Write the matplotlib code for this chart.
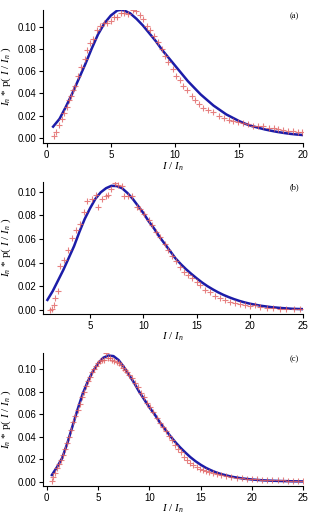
import matplotlib
matplotlib.use('Agg')
import matplotlib.pyplot as plt

plt.rcParams['mathtext.fontset'] = 'custom'
plt.rcParams['mathtext.rm'] = 'Liberation Serif'
plt.rcParams['mathtext.it'] = 'Liberation Serif:italic'

# ---- panel (a) ----
a_pts_x = [0.57, 0.73, 0.99, 1.17, 1.35, 1.56, 1.74, 1.9, 2.08, 2.2, 2.47, 2.65, 2.99, 3.17, 3.38,
           3.64, 3.9, 4.16, 4.47, 4.73, 4.99, 5.25, 5.5, 5.77, 6.03, 6.36, 6.7, 7.0, 7.27, 7.53,
           7.79, 8.05, 8.36, 8.7, 8.96, 9.22, 9.48, 9.82, 10.08, 10.4, 10.65, 10.96, 11.3, 11.56,
           11.9, 12.2, 12.6, 13.0, 13.4, 13.8, 14.2, 14.5, 14.9, 15.3, 15.7, 16.1, 16.5, 16.9,
           17.3, 17.7, 18.05, 18.4, 18.8, 19.2, 19.6, 19.9]
a_pts_y = [0.0015, 0.0054, 0.0114, 0.017, 0.022, 0.028, 0.034, 0.038, 0.043, 0.047, 0.056, 0.064,
           0.071, 0.079, 0.085, 0.089, 0.097, 0.101, 0.103, 0.103, 0.105, 0.109, 0.109, 0.112,
           0.112, 0.111, 0.115, 0.114, 0.110, 0.107, 0.101, 0.097, 0.092, 0.086, 0.080, 0.074,
           0.068, 0.062, 0.056, 0.052, 0.047, 0.043, 0.038, 0.034, 0.030, 0.027, 0.025, 0.023,
           0.020, 0.018, 0.016, 0.015, 0.014, 0.013, 0.012, 0.011, 0.0108, 0.0105, 0.009, 0.0087,
           0.0075, 0.0069, 0.0063, 0.006, 0.0054, 0.0051]
a_fit_x = [0.5, 1, 1.5, 2, 2.5, 3, 3.5, 4, 4.5, 5, 5.5, 5.75, 6, 6.5, 7, 7.5, 8, 8.5, 9, 9.5, 10,
           10.5, 11, 11.5, 12, 12.5, 13, 13.5, 14, 14.5, 15, 15.5, 16, 16.5, 17, 17.5, 18, 18.5,
           19, 19.5, 20]
a_fit_y = [0.010, 0.017, 0.028, 0.040, 0.053, 0.066, 0.080, 0.093, 0.103, 0.110, 0.1145, 0.115,
           0.1147, 0.112, 0.107, 0.101, 0.094, 0.087, 0.079, 0.072, 0.065, 0.058, 0.051, 0.045,
           0.039, 0.034, 0.029, 0.025, 0.021, 0.018, 0.015, 0.0125, 0.0105, 0.009, 0.0075, 0.0063,
           0.0052, 0.0043, 0.0035, 0.0029, 0.0024]

# ---- panel (b) ----
b_pts_x = [1.2, 1.4, 1.6, 1.75, 2.0, 2.2, 2.56, 2.97, 3.28, 3.69, 4.06, 4.44, 4.75, 5.16, 5.6,
           5.7, 6.1, 6.5, 6.7, 7.0, 7.3, 7.65, 7.97, 8.2, 8.6, 8.9, 9.4, 9.7, 10.1, 10.5, 10.8,
           11.2, 11.6, 12.0, 12.3, 12.7, 13.1, 13.4, 13.8, 14.2, 14.6, 15.0, 15.3, 15.8, 16.25,
           16.7, 17.2, 17.7, 18.1, 18.6, 19.1, 19.5, 20.0, 20.5, 20.9, 21.6, 22.2, 22.8, 23.4,
           24.1, 24.7]
b_pts_y = [0.000, 0.001, 0.004, 0.010, 0.016, 0.037, 0.042, 0.051, 0.061, 0.068, 0.073, 0.083,
           0.092, 0.094, 0.097, 0.087, 0.094, 0.096, 0.097, 0.102, 0.107, 0.106, 0.105, 0.096,
           0.096, 0.096, 0.087, 0.085, 0.081, 0.076, 0.072, 0.066, 0.062, 0.056, 0.051, 0.046,
           0.041, 0.036, 0.032, 0.030, 0.027, 0.024, 0.021, 0.017, 0.015, 0.012, 0.010, 0.0085,
           0.0068, 0.0056, 0.0048, 0.004, 0.0034, 0.0045, 0.0028, 0.002, 0.0017, 0.0011, 0.0011,
           0.0008, 0.0008]
b_fit_x = [1.0, 1.5, 2, 2.5, 3, 3.5, 4, 4.5, 5, 5.5, 6, 6.5, 7, 7.5, 8, 8.5, 9, 9.5, 10, 10.5,
           11, 11.5, 12, 12.5, 13, 13.5, 14, 14.5, 15, 15.5, 16, 16.5, 17, 17.5, 18, 18.5, 19,
           19.5, 20, 21, 22, 23, 24, 25]
b_fit_y = [0.0085, 0.016, 0.025, 0.034, 0.044, 0.054, 0.066, 0.077, 0.086, 0.094, 0.0995, 0.103,
           0.105, 0.1048, 0.103, 0.099, 0.094, 0.088, 0.082, 0.075, 0.069, 0.062, 0.056, 0.050,
           0.0438, 0.0389, 0.0345, 0.0305, 0.0268, 0.0233, 0.0202, 0.0175, 0.0150, 0.0128,
           0.0109, 0.0092, 0.0077, 0.0064, 0.0053, 0.0036, 0.0024, 0.0016, 0.0010, 0.0007]

# ---- panel (c) ----
c_pts_x = [0.5, 0.65, 0.8, 1.0, 1.2, 1.4, 1.6, 1.8, 2.0, 2.2, 2.4, 2.6, 2.8, 3.0, 3.2, 3.4, 3.6,
           3.8, 4.0, 4.2, 4.4, 4.6, 4.8, 5.0, 5.2, 5.4, 5.6, 5.8, 6.0, 6.2, 6.4, 6.6, 6.8, 7.0,
           7.2, 7.4, 7.6, 7.8, 8.0, 8.3, 8.6, 8.9, 9.2, 9.5, 9.8, 10.1, 10.4, 10.7, 11.0, 11.3,
           11.6, 11.9, 12.2, 12.5, 12.8, 13.1, 13.4, 13.7, 14.0, 14.3, 14.6, 14.9, 15.2, 15.5,
           15.8, 16.2, 16.6, 17.0, 17.5, 18.0, 18.5, 19.0, 19.5, 20.0, 20.5, 21.0, 21.5, 22.0,
           22.5, 23.0, 23.5, 24.0, 24.5, 25.0]
c_pts_y = [0.001, 0.004, 0.008, 0.012, 0.016, 0.019, 0.024, 0.029, 0.034, 0.040, 0.046, 0.053,
           0.058, 0.064, 0.069, 0.075, 0.080, 0.085, 0.089, 0.093, 0.097, 0.100, 0.103, 0.105,
           0.107, 0.108, 0.108, 0.114, 0.110, 0.110, 0.108, 0.107, 0.106, 0.105, 0.104, 0.101,
           0.099, 0.097, 0.095, 0.092, 0.088, 0.084, 0.079, 0.075, 0.070, 0.066, 0.062, 0.057,
           0.052, 0.049, 0.045, 0.041, 0.037, 0.033, 0.029, 0.026, 0.022, 0.019, 0.017, 0.015,
           0.013, 0.0115, 0.010, 0.0095, 0.009, 0.008, 0.0068, 0.0058, 0.005, 0.0042, 0.0036,
           0.0032, 0.0028, 0.0025, 0.0022, 0.0019, 0.0016, 0.0014, 0.0013, 0.0012, 0.0011,
           0.0010, 0.0010, 0.0010]
c_fit_x = [0.5, 1, 1.5, 2, 2.5, 3, 3.5, 4, 4.5, 5, 5.5, 6, 6.5, 7, 7.5, 8, 8.5, 9, 9.5, 10, 10.5,
           11, 11.5, 12, 12.5, 13, 13.5, 14, 14.5, 15, 15.5, 16, 16.5, 17, 18, 19, 20, 21, 22, 23,
           24, 25]
c_fit_y = [0.006, 0.013, 0.021, 0.034, 0.049, 0.064, 0.078, 0.089, 0.098, 0.105, 0.110, 0.112,
           0.1115, 0.108, 0.102, 0.095, 0.088, 0.080, 0.073, 0.066, 0.060, 0.053, 0.047, 0.041,
           0.0355, 0.0305, 0.026, 0.0218, 0.0182, 0.0151, 0.0124, 0.0102, 0.0083, 0.0068,
           0.0045, 0.0030, 0.0020, 0.0013, 0.0009, 0.0006, 0.0004, 0.0003]

yticks = [0.0, 0.02, 0.04, 0.06, 0.08, 0.10]
panels = [
    ('(a)', a_pts_x, a_pts_y, a_fit_x, a_fit_y, (-0.26, 20), (-0.005, 0.115), [0, 5, 10, 15, 20],
     [0.139, 0.7217, 0.833, 0.259]),
    ('(b)', b_pts_x, b_pts_y, b_fit_x, b_fit_y, (0.62, 25), (-0.0034, 0.1085), [5, 10, 15, 20, 25],
     [0.139, 0.3903, 0.833, 0.2569]),
    ('(c)', c_pts_x, c_pts_y, c_fit_x, c_fit_y, (-0.33, 25), (-0.0035, 0.114), [0, 5, 10, 15, 20, 25],
     [0.139, 0.0569, 0.833, 0.2571]),
]

fig = plt.figure(figsize=(3.12, 5.15), dpi=100)
for tag, px, py, fx, fy, xl, yl, xt, rect in panels:
    ax = fig.add_axes(rect)
    ax.plot(fx, fy, color='#1c1ca8', lw=1.8, zorder=2)
    ax.plot(px, py, linestyle='none', marker='+', markersize=4, mew=0.8,
            color='#e06060', alpha=0.8, zorder=3)
    ax.set_xlim(*xl)
    ax.set_ylim(*yl)
    ax.set_xticks(xt)
    ax.set_yticks(yticks)
    ax.set_yticklabels(['%.2f' % v for v in yticks])
    for s in ['top', 'right']:
        ax.spines[s].set_visible(False)
    for s in ['left', 'bottom']:
        ax.spines[s].set_linewidth(0.8)
    ax.tick_params(direction='out', length=3, width=0.8, labelsize=7, pad=2)
    for lab in ax.get_xticklabels() + ax.get_yticklabels():
        lab.set_fontfamily('Liberation Sans')
    ax.set_xlabel(r'$I$ / $I_n$', fontsize=8, family='Liberation Serif', labelpad=0)
    ax.set_ylabel(r'$I_n$ * p( $I$ / $I_n$ )', fontsize=8, family='Liberation Serif', labelpad=3)
    ax.text(0.985, 0.985, tag, transform=ax.transAxes, ha='right', va='top',
            fontsize=6, family='Liberation Serif')

fig.savefig('out.png', dpi=100)
